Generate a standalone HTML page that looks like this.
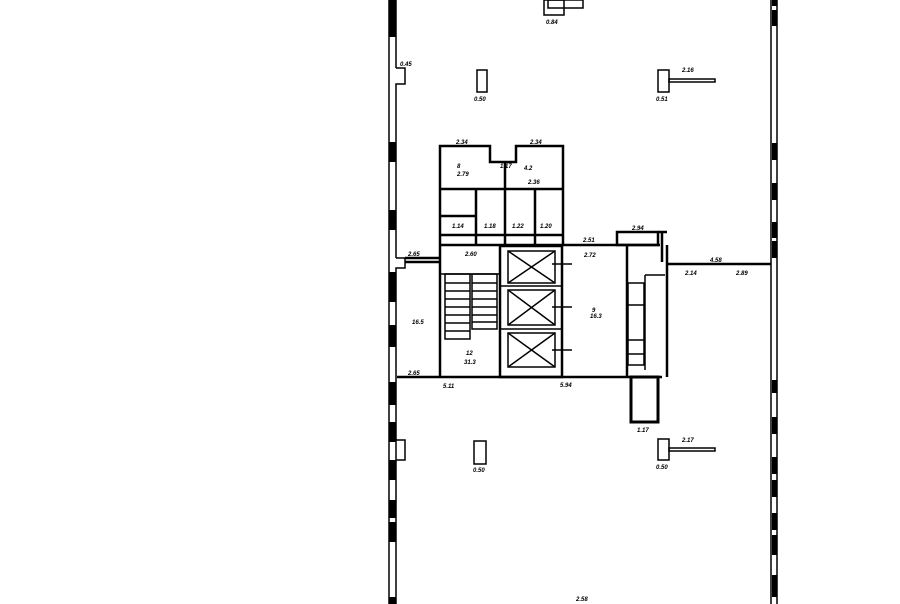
<!DOCTYPE html>
<html><head><meta charset="utf-8"><style>
html,body{margin:0;padding:0;background:#fff;width:900px;height:604px;overflow:hidden}
svg{display:block}
text{font-family:"Liberation Sans",sans-serif;font-size:6px;font-style:italic;font-weight:bold;fill:#000}
</style></head><body>
<svg width="900" height="604" viewBox="0 0 900 604" xmlns="http://www.w3.org/2000/svg">
<g fill="none" stroke="#000" stroke-width="1.5">
<line x1="389" y1="0" x2="389" y2="604"/>
<line x1="396" y1="0" x2="396" y2="68"/>
<polyline points="396,68 405,68 405,84 396,84 396,258"/>
<polyline points="396,258 405,258 405,268 396,268 396,604"/>
<line x1="777" y1="0" x2="777" y2="604"/>
<line x1="771" y1="0" x2="771" y2="604"/>
</g>
<g fill="#000">
<rect x="389" y="0" width="7" height="37"/>
<rect x="389" y="142" width="7" height="20"/>
<rect x="389" y="210" width="7" height="20"/>
<rect x="389" y="272" width="7" height="30"/>
<rect x="389" y="325" width="7" height="22"/>
<rect x="389" y="382" width="7" height="23"/>
<rect x="389" y="422" width="7" height="20"/>
<rect x="389" y="460" width="7" height="20"/>
<rect x="389" y="500" width="7" height="18"/>
<rect x="389" y="522" width="7" height="20"/>
<rect x="389" y="597" width="7" height="7"/>
<rect x="772" y="0" width="5" height="6"/>
<rect x="772" y="10" width="5" height="16"/>
<rect x="772" y="143" width="5" height="17"/>
<rect x="772" y="183" width="5" height="17"/>
<rect x="772" y="222" width="5" height="16"/>
<rect x="772" y="241" width="5" height="17"/>
<rect x="772" y="380" width="5" height="13"/>
<rect x="772" y="417" width="5" height="17"/>
<rect x="772" y="457" width="5" height="17"/>
<rect x="772" y="480" width="5" height="17"/>
<rect x="772" y="513" width="5" height="17"/>
<rect x="772" y="535" width="5" height="20"/>
<rect x="772" y="575" width="5" height="22"/>
</g>
<g fill="none" stroke="#000" stroke-width="2.5">
<polyline points="440,246 440,146 490,146 490,162 516,162 516,146 563,146 563,246"/>
<line x1="440" y1="189" x2="563" y2="189"/>
<line x1="476" y1="189" x2="476" y2="246"/>
<line x1="505" y1="162" x2="505" y2="246"/>
<line x1="535" y1="189" x2="535" y2="246"/>
<line x1="440" y1="235" x2="563" y2="235"/>
<line x1="440" y1="216" x2="476" y2="216"/>
<line x1="440" y1="246" x2="440" y2="378"/>
<line x1="440" y1="245" x2="660" y2="245"/>
<rect x="500" y="246" width="62" height="131"/>
<line x1="397" y1="377" x2="662" y2="377"/>
<line x1="405" y1="258" x2="440" y2="258"/>
<line x1="405" y1="262" x2="440" y2="262"/>
<line x1="627" y1="245" x2="627" y2="377"/>
<line x1="667" y1="245" x2="667" y2="377"/>
<rect x="617" y="232" width="41" height="13"/>
<line x1="658" y1="232" x2="667" y2="232"/>
<line x1="662" y1="232" x2="662" y2="262"/>
<rect x="631" y="377" width="27" height="45" stroke-width="3"/>
<line x1="668" y1="264" x2="771" y2="264" stroke-width="2.5"/>
</g>
<g fill="none" stroke="#000" stroke-width="1.5">
<rect x="508" y="251" width="47" height="32"/><line x1="508" y1="251" x2="555" y2="283"/><line x1="555" y1="251" x2="508" y2="283"/>
<rect x="508" y="290" width="47" height="35"/><line x1="508" y1="290" x2="555" y2="325"/><line x1="555" y1="290" x2="508" y2="325"/>
<rect x="508" y="333" width="47" height="34"/><line x1="508" y1="333" x2="555" y2="367"/><line x1="555" y1="333" x2="508" y2="367"/>
<line x1="500" y1="286" x2="562" y2="286"/><line x1="500" y1="329" x2="562" y2="329"/>
<line x1="552" y1="264" x2="572" y2="264"/><line x1="552" y1="307" x2="572" y2="307"/><line x1="552" y1="350" x2="572" y2="350"/>
<line x1="441" y1="274" x2="500" y2="274"/>
<rect x="445" y="274" width="25" height="65"/>
<rect x="472" y="274" width="25" height="55"/>
<line x1="445" y1="283" x2="470" y2="283"/><line x1="445" y1="291" x2="470" y2="291"/><line x1="445" y1="299" x2="470" y2="299"/><line x1="445" y1="307" x2="470" y2="307"/><line x1="445" y1="315" x2="470" y2="315"/><line x1="445" y1="323" x2="470" y2="323"/><line x1="445" y1="331" x2="470" y2="331"/>
<line x1="472" y1="283" x2="497" y2="283"/><line x1="472" y1="291" x2="497" y2="291"/><line x1="472" y1="299" x2="497" y2="299"/><line x1="472" y1="307" x2="497" y2="307"/><line x1="472" y1="315" x2="497" y2="315"/><line x1="472" y1="322" x2="497" y2="322"/>
<rect x="628" y="283" width="16" height="82"/>
<line x1="628" y1="305" x2="644" y2="305"/><line x1="628" y1="340" x2="644" y2="340"/><line x1="628" y1="354" x2="644" y2="354"/>
<line x1="645" y1="275" x2="665" y2="275"/>
<line x1="645" y1="275" x2="645" y2="370"/>
<rect x="477" y="70" width="10" height="22"/>
<rect x="658" y="70" width="11" height="22"/>
<rect x="669" y="79" width="46" height="3"/>
<rect x="474" y="441" width="12" height="23"/>
<rect x="658" y="439" width="11" height="21"/>
<rect x="669" y="448" width="46" height="3"/>
<rect x="544" y="0" width="20" height="15"/>
<rect x="548" y="0" width="35" height="8"/>
<polyline points="396,440 405,440 405,460 396,460"/>
</g>
<g>
<text x="456" y="144">2.34</text><text x="530" y="144">2.34</text>
<text x="457" y="168">8</text><text x="457" y="176">2.79</text><text x="524" y="170">4.2</text>
<text x="528" y="184">2.36</text><text x="500" y="168">1.17</text>
<text x="452" y="228">1.14</text><text x="484" y="228">1.18</text><text x="512" y="228">1.22</text><text x="540" y="228">1.20</text>
<text x="465" y="256">2.60</text><text x="583" y="242">2.51</text><text x="584" y="257">2.72</text>
<text x="632" y="230">2.94</text><text x="710" y="262">4.58</text><text x="685" y="275">2.14</text><text x="736" y="275">2.89</text>
<text x="408" y="256">2.65</text><text x="408" y="375">2.65</text>
<text x="443" y="388">5.11</text><text x="560" y="387">5.94</text>
<text x="592" y="312">9</text><text x="590" y="318">16.3</text>
<text x="466" y="355">12</text><text x="464" y="364">31.3</text>
<text x="412" y="324">16.5</text>
<text x="637" y="432">1.17</text><text x="682" y="72">2.16</text><text x="682" y="442">2.17</text>
<text x="474" y="101">0.50</text><text x="656" y="101">0.51</text>
<text x="473" y="472">0.50</text><text x="656" y="469">0.50</text>
<text x="546" y="24">0.84</text><text x="400" y="66">0.45</text>
<text x="576" y="601">2.58</text>
</g>
</svg>
</body></html>
